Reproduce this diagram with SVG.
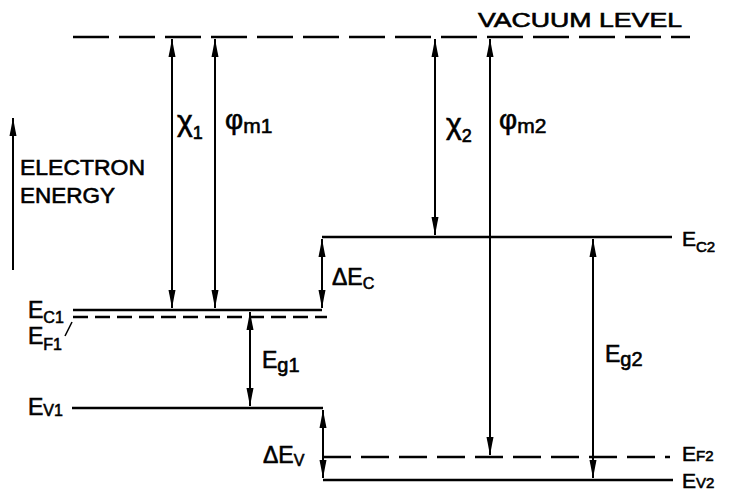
<svg xmlns="http://www.w3.org/2000/svg" width="729" height="499" viewBox="0 0 729 499">
<defs>
<marker id="ah" viewBox="0 0 18 8" refX="18" refY="4" markerWidth="18" markerHeight="8" markerUnits="userSpaceOnUse" orient="auto-start-reverse">
<path d="M0,0.5 L18,4 L0,7.5 Z" fill="#000"/>
</marker>
</defs>
<style>
.lvl{stroke:#000;stroke-width:2.6;fill:none}
.dash{stroke-dasharray:36 10}
.dash2{stroke-dasharray:15 7}
.dash3{stroke-dasharray:28 10}
.arr{stroke:#000;stroke-width:2;fill:none;marker-start:url(#ah);marker-end:url(#ah)}
text{font-family:"Liberation Sans","DejaVu Sans",Arial,sans-serif;fill:#000;stroke:#000;stroke-width:0.6}
.lab{font-size:23px}
.rlab{font-size:21px}
.sub{font-size:16px}
.rsub{font-size:15px}
</style>
<rect width="729" height="499" fill="#fff"/>

<g id="vacuum-level">
<line class="lvl dash" x1="73" y1="37" x2="690" y2="37"/>
<text x="478" y="27" font-size="20" textLength="204" lengthAdjust="spacingAndGlyphs">VACUUM LEVEL</text>
</g>

<g id="energy-axis">
<line x1="13" y1="270" x2="13" y2="118" stroke="#000" stroke-width="2" marker-end="url(#ah)"/>
<text x="20" y="175" font-size="22" textLength="125" lengthAdjust="spacingAndGlyphs">ELECTRON</text>
<text x="20" y="203" font-size="22" textLength="95" lengthAdjust="spacingAndGlyphs">ENERGY</text>
</g>

<g id="ec1">
<line class="lvl" x1="73" y1="310" x2="322" y2="310"/>
<text class="lab" x="28" y="318">E<tspan class="sub" dy="5">C1</tspan></text>
</g>
<g id="ef1">
<line class="lvl dash2" x1="73" y1="317" x2="327" y2="317"/>
<line x1="65" y1="336" x2="72" y2="322" stroke="#000" stroke-width="1.5"/>
<text class="lab" x="28" y="344">E<tspan class="sub" dy="6">F1</tspan></text>
</g>
<g id="ev1">
<line class="lvl" x1="72" y1="408" x2="323" y2="408"/>
<text class="lab" x="28" y="415">E<tspan class="sub" dy="1">V1</tspan></text>
</g>
<g id="ec2">
<line class="lvl" x1="322" y1="237" x2="672" y2="237"/>
<text class="rlab" x="682" y="246">E<tspan class="rsub" dy="6">C2</tspan></text>
</g>
<g id="ef2">
<line class="lvl dash3" x1="323" y1="457" x2="670" y2="457"/>
<text class="rlab" x="682" y="461">E<tspan class="rsub" dy="0">F2</tspan></text>
</g>
<g id="ev2">
<line class="lvl" x1="323" y1="480" x2="673" y2="480"/>
<text class="rlab" x="682" y="488">E<tspan class="rsub" dy="0">V2</tspan></text>
</g>

<g id="connectors">
<line class="arr" x1="172" y1="39" x2="172" y2="308"/>
<line class="arr" x1="215" y1="39" x2="215" y2="308"/>
<line class="arr" x1="322" y1="239" x2="322" y2="308"/>
<line class="arr" x1="250" y1="312" x2="250" y2="406"/>
<line class="arr" x1="323" y1="410" x2="323" y2="478"/>
<line class="arr" x1="435" y1="39" x2="435" y2="235"/>
<line class="arr" x1="490" y1="39" x2="490" y2="455"/>
<line class="arr" x1="593" y1="239" x2="593" y2="478"/>
</g>

<g id="labels">
<text x="177" y="131" font-size="30">χ<tspan font-size="18" dy="8">1</tspan></text>
<text x="225" y="129" font-size="28">φ<tspan font-size="21" dy="4">m1</tspan></text>
<text x="446" y="134" font-size="30">χ<tspan font-size="18" dy="8">2</tspan></text>
<text x="499" y="129" font-size="28">φ<tspan font-size="21" dy="4">m2</tspan></text>
<text class="lab" x="332" y="285">ΔE<tspan class="sub" dy="4">C</tspan></text>
<text class="lab" x="262" y="368">E<tspan font-size="20" dy="4">g1</tspan></text>
<text class="lab" x="605" y="362">E<tspan font-size="20" dy="4">g2</tspan></text>
<text class="lab" x="263" y="463">ΔE<tspan class="sub" dy="3">V</tspan></text>
</g>
</svg>
